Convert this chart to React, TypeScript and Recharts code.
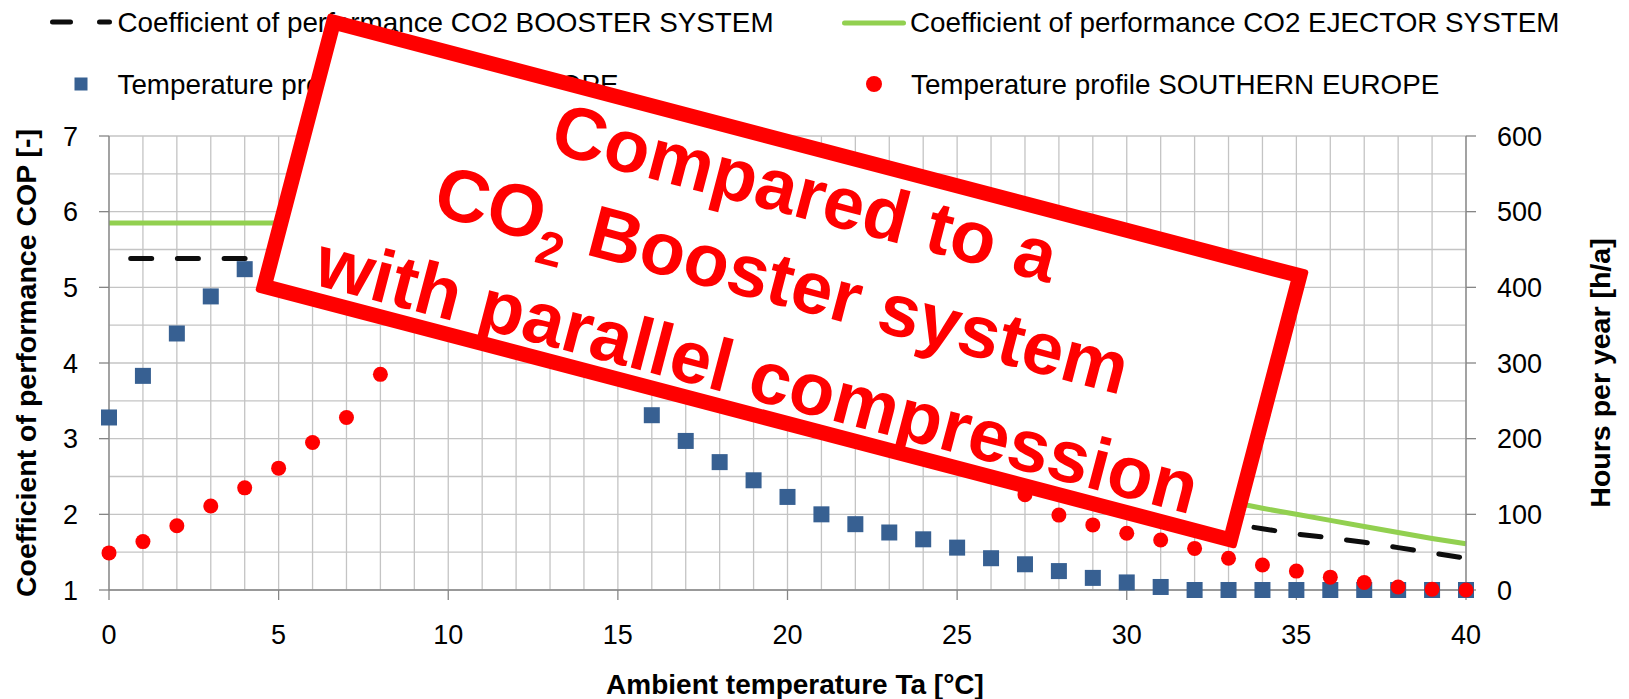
import React from 'react';
import {
  ComposedChart,
  Line,
  Scatter,
  XAxis,
  YAxis,
  CartesianGrid,
  Legend,
} from 'recharts';

const FONT = '"Liberation Sans", Arial, sans-serif';

// ambient temperature, °C
const temperatures = [
  0, 1, 2, 3, 4, 5, 6, 7, 8, 9, 10, 11, 12, 13, 14, 15, 16, 17, 18, 19, 20,
  21, 22, 23, 24, 25, 26, 27, 28, 29, 30, 31, 32, 33, 34, 35, 36, 37, 38, 39, 40,
];

// COP, left axis
const boosterCop = [
  5.38, 5.38, 5.38, 5.38, 5.38, 5.38, 5.38, 5.38, 5.38, 5.18, 4.97, 4.76, 4.56, 4.37,
  4.18, 4.0, 3.83, 3.67, 3.51, 3.36, 3.22, 3.08, 2.95, 2.83, 2.71, 2.6, 2.49, 2.39,
  2.29, 2.2, 2.11, 2.03, 1.95, 1.88, 1.81, 1.74, 1.69, 1.63, 1.56, 1.49, 1.42,
];
const ejectorCop = [
  5.85, 5.85, 5.85, 5.85, 5.85, 5.85, 5.85, 5.85, 5.85, 5.75, 5.52, 5.3, 5.09, 4.89,
  4.69, 4.5, 4.32, 4.14, 3.97, 3.81, 3.65, 3.5, 3.36, 3.22, 3.09, 2.97, 2.85, 2.74,
  2.63, 2.53, 2.43, 2.34, 2.25, 2.17, 2.08, 2.0, 1.92, 1.84, 1.76, 1.68, 1.61,
];

// hours per year, right axis
const centralEuropeHours = [
  228, 283, 339, 388, 424, 445, 452, 448, 438, 422, 405, 385, 365, 345, 322, 300,
  231, 197, 169, 145, 123, 100, 87, 76, 67, 56, 42, 34, 25, 16, 10, 4, 0, 0, 0, 0,
  0, 0, 0, 0, 0,
];
const southernEuropeHours = [
  49, 64, 85, 111, 135, 161, 195, 228, 285, 355, 395, 425, 445, 458, 463, 462, 455,
  442, 425, 405, 380, 350, 315, 275, 232, 190, 150, 126, 99, 86, 75, 66, 55, 42, 33,
  25, 17, 10, 4, 1, 0,
];

const xTicks = [0, 5, 10, 15, 20, 25, 30, 35, 40];
const copTicks = [1, 2, 3, 4, 5, 6, 7];
const copGridValues = [1, 1.5, 2, 2.5, 3, 3.5, 4, 4.5, 5, 5.5, 6, 6.5, 7];
const hourTicks = [0, 100, 200, 300, 400, 500, 600];

const seriesNames = [
  'Coefficient of performance CO2 BOOSTER SYSTEM',
  'Coefficient of performance CO2 EJECTOR SYSTEM',
  'Temperature profile CENTRAL EUROPE',
  'Temperature profile SOUTHERN EUROPE',
];

const rows = temperatures.map((t, i) => ({
  t,
  booster: boosterCop[i],
  ejector: ejectorCop[i],
  central: centralEuropeHours[i],
  southern: southernEuropeHours[i],
}));

const BLUE = '#376092';
const RED = '#FF0000';
const GREEN = '#92D050';
const BLACK = '#0d0d0d';
const AXIS = '#868686';
const GRID = '#c4c4c4';

const BlueSquare = (p: any) => (
  <rect x={p.cx - 8} y={p.cy - 8} width={16} height={16} fill={BLUE} />
);
const RedDot = (p: any) => <circle cx={p.cx} cy={p.cy} r={7.5} fill={RED} />;

const legendText = { fontFamily: FONT, fontSize: 27.8, fill: '#000' };

const LegendContent = () => (
  <svg width={1629} height={120} style={{ display: 'block' }}>
    <line x1={52.5} y1={22} x2={109.5} y2={22} stroke={BLACK} strokeWidth={5}
      strokeDasharray="18 29" strokeLinecap="round" />
    <text x={117.5} y={32} {...legendText}>{seriesNames[0]}</text>
    <line x1={844.5} y1={23} x2={903.5} y2={23} stroke={GREEN} strokeWidth={5}
      strokeLinecap="round" />
    <text x={910} y={32} {...legendText}>{seriesNames[1]}</text>
    <rect x={74.5} y={77.5} width={13} height={13} fill={BLUE} />
    <text x={117.5} y={94} {...legendText}>{seriesNames[2]}</text>
    <circle cx={874} cy={84} r={8} fill={RED} />
    <text x={911} y={94} {...legendText}>{seriesNames[3]}</text>
  </svg>
);

const titleStyle = { fontFamily: FONT, fontSize: 28.5, fontWeight: 700, fill: '#000' };

const App: React.FC = () => {
  return (
    <div style={{ position: 'absolute', left: 0, top: 0, width: 1629, height: 699, background: '#fff' }}>
      <ComposedChart
        width={1629}
        height={699}
        data={rows}
        margin={{ top: 136, right: 0, bottom: 0, left: 0 }}
        style={{ fontFamily: FONT }}
      >
        <CartesianGrid
          stroke={GRID}
          strokeWidth={1.3}
          verticalValues={temperatures}
          horizontalValues={copGridValues}
        />
        <XAxis
          dataKey="t"
          type="number"
          domain={[0, 40]}
          ticks={xTicks}
          interval={0}
          height={109}
          tickSize={10}
          tickMargin={25}
          axisLine={{ stroke: AXIS, strokeWidth: 1.3 }}
          tickLine={{ stroke: AXIS, strokeWidth: 1.3 }}
          tick={{ fill: '#000', fontSize: 27, fontFamily: FONT }}
          label={() => (
            <text x={795} y={694} textAnchor="middle" {...titleStyle} fontSize={28}>
              Ambient temperature Ta [°C]
            </text>
          )}
        />
        <YAxis
          type="number"
          domain={[1, 7]}
          ticks={copTicks}
          interval={0}
          width={109}
          tickSize={10}
          tickMargin={21}
          axisLine={{ stroke: AXIS, strokeWidth: 1.3 }}
          tickLine={{ stroke: AXIS, strokeWidth: 1.3 }}
          tick={{ fill: '#000', fontSize: 27, fontFamily: FONT }}
          label={() => (
            <text x={36} y={363} transform="rotate(-90 36 363)" textAnchor="middle" {...titleStyle}>
              Coefficient of performance COP [-]
            </text>
          )}
        />
        <YAxis
          yAxisId="hours"
          orientation="right"
          type="number"
          domain={[0, 600]}
          ticks={hourTicks}
          interval={0}
          width={163}
          tickSize={10}
          tickMargin={21}
          axisLine={{ stroke: AXIS, strokeWidth: 1.3 }}
          tickLine={{ stroke: AXIS, strokeWidth: 1.3 }}
          tick={{ fill: '#000', fontSize: 27, fontFamily: FONT }}
          label={() => (
            <text x={1610} y={373} transform="rotate(-90 1610 373)" textAnchor="middle" {...titleStyle}>
              Hours per year [h/a]
            </text>
          )}
        />
        <Legend
          layout="horizontal"
          verticalAlign="middle"
          align="center"
          content={LegendContent}
          wrapperStyle={{ position: 'absolute', left: 0, top: 0, width: 1629, height: 120 }}
        />
        <Scatter
          yAxisId="hours"
          dataKey="central"
          name={seriesNames[2]}
          shape={BlueSquare}
          isAnimationActive={false}
        />
        <Scatter
          yAxisId="hours"
          dataKey="southern"
          name={seriesNames[3]}
          shape={RedDot}
          isAnimationActive={false}
        />
        <Line
          type="linear"
          dataKey="ejector"
          name={seriesNames[1]}
          stroke={GREEN}
          strokeWidth={5}
          dot={false}
          activeDot={false}
          isAnimationActive={false}
        />
        <Line
          type="linear"
          dataKey="booster"
          name={seriesNames[0]}
          stroke={BLACK}
          strokeWidth={5}
          strokeDasharray="21 25.7"
          strokeDashoffset={25}
          strokeLinecap="round"
          dot={false}
          activeDot={false}
          isAnimationActive={false}
        />
      </ComposedChart>

      {/* red stamp over the plot */}
      <div
        style={{
          position: 'absolute',
          left: 781.5 - 507,
          top: 281 - 144,
          width: 1014,
          height: 288,
          boxSizing: 'border-box',
          border: `15px solid ${RED}`,
          borderRadius: 3,
          background: '#fff',
          transform: 'rotate(14.7deg)',
          transformOrigin: '50% 50%',
        }}
      >
        <div
          style={{
            position: 'absolute',
            left: -100,
            right: -100,
            top: '50%',
            transform: 'translateY(calc(-50% + 3px))',
            textAlign: 'center',
            color: RED,
            fontFamily: FONT,
            fontWeight: 700,
            fontSize: 74,
            lineHeight: '89.5px',
            whiteSpace: 'nowrap',
          }}
        >
          <div>Compared to a</div>
          <div>
            CO<span style={{ fontSize: '0.65em', position: 'relative', top: 20 }}>2</span> Booster system
          </div>
          <div>with parallel compression</div>
        </div>
      </div>
    </div>
  );
};

export default App;
